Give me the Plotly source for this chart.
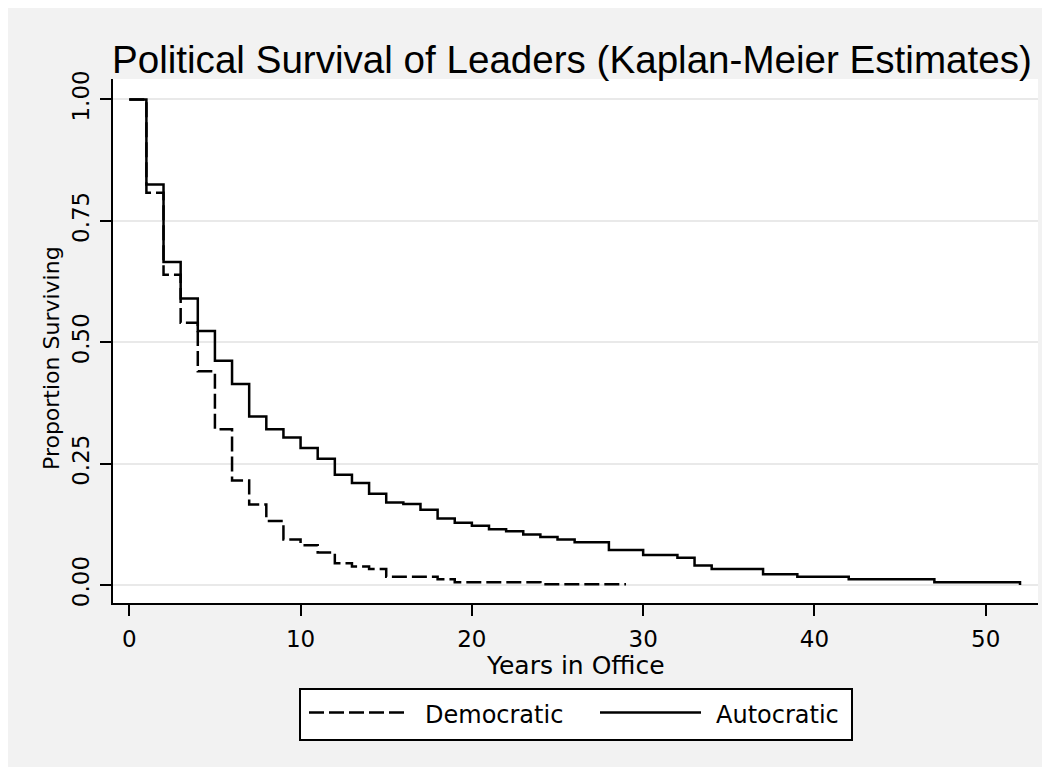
import plotly.graph_objects as go

# ---- data (Kaplan-Meier step estimates) ----
auto_years = [0, 1, 2, 3, 4, 5, 6, 7, 8, 9, 10, 11, 12, 13, 14, 15, 16, 17, 18, 19,
              20, 21, 22, 23, 24, 25, 26, 28, 30, 32, 33, 34, 37, 39, 42, 47, 52]
auto_surv = [1.0, 0.825, 0.665, 0.590, 0.523, 0.462, 0.414, 0.347, 0.321, 0.304,
             0.282, 0.260, 0.227, 0.210, 0.188, 0.170, 0.167, 0.155, 0.137, 0.128,
             0.122, 0.115, 0.111, 0.104, 0.099, 0.094, 0.088, 0.072, 0.062, 0.056,
             0.040, 0.033, 0.022, 0.017, 0.012, 0.0055, 0.0]

dem_years = [0, 1, 2, 3, 4, 5, 6, 7, 8, 9, 10, 11, 12, 13, 14, 15, 18, 19, 24, 29]
dem_surv = [1.0, 0.808, 0.639, 0.540, 0.440, 0.321, 0.215, 0.166, 0.132, 0.094,
            0.082, 0.067, 0.045, 0.038, 0.033, 0.017, 0.012, 0.0055, 0.0014, 0.0014]

x_ticks = [0, 10, 20, 30, 40, 50]
y_ticks = [0.0, 0.25, 0.5, 0.75, 1.0]
y_tick_labels = ["0.00", "0.25", "0.50", "0.75", "1.00"]

series_names = ["Democratic", "Autocratic"]
title_text = "Political Survival of Leaders (Kaplan-Meier Estimates)"
x_title = "Years in Office"
y_title = "Proportion Surviving"

FONT = "DejaVu Sans"
DASH = "15px,5px"

fig = go.Figure()
fig.add_trace(go.Scatter(x=auto_years, y=auto_surv, mode="lines", name=series_names[1],
                         line=dict(color="black", width=2.5, shape="hv")))
fig.add_trace(go.Scatter(x=dem_years, y=dem_surv, mode="lines", name=series_names[0],
                         line=dict(color="black", width=2.5, shape="hv", dash=DASH)))

W, H = 1050, 767
L, R, T, B = 105, 20, 71, 172
PW, PH = W - L - R, H - T - B


def px_x(px):
    return (px - L) / PW


def px_y(py):
    return (H - B - py) / PH


fig.update_layout(
    width=W, height=H,
    margin=dict(l=L, r=R, t=T, b=B),
    paper_bgcolor="#f2f2f2",
    plot_bgcolor="white",
    showlegend=False,
    title=dict(text=title_text, x=104 / W, xanchor="left", xref="container",
               y=1 - 51 / H, yanchor="middle", yref="container",
               font=dict(family="Liberation Sans", size=38.6, color="black")),
    xaxis=dict(range=[-0.95, 53.05], tickvals=x_ticks, ticks="outside", ticklen=11,
               tickwidth=2, tickcolor="black", showline=True, linecolor="black",
               linewidth=2, showgrid=False, zeroline=False, ticklabelstandoff=3,
               tickfont=dict(family=FONT, size=23, color="black")),
    yaxis=dict(range=[-0.037, 1.042], tickvals=y_ticks, ticktext=y_tick_labels,
               tickangle=-90, ticks="outside", ticklen=11, tickwidth=2,
               tickcolor="black", showline=True, linecolor="black", linewidth=2,
               showgrid=True, gridcolor="#e9e9e9", gridwidth=2, zeroline=False,
               ticklabelstandoff=2,
               tickfont=dict(family=FONT, size=23, color="black")),
)

# axis titles
fig.add_annotation(text=x_title, xref="paper", yref="paper", x=px_x(567), y=px_y(657),
                   xanchor="center", yanchor="middle", showarrow=False,
                   font=dict(family=FONT, size=25, color="black"))
fig.add_annotation(text=y_title, xref="paper", yref="paper", x=px_x(43), y=px_y(350),
                   xanchor="center", yanchor="middle", showarrow=False, textangle=-90,
                   font=dict(family=FONT, size=22, color="black"))

shapes = []
# legend box
shapes.append(dict(type="rect", xref="paper", yref="paper", x0=px_x(292), x1=px_x(844),
                   y0=px_y(732), y1=px_y(681), fillcolor="white",
                   line=dict(color="black", width=2)))
shapes.append(dict(type="line", xref="paper", yref="paper", x0=px_x(301), x1=px_x(401),
                   y0=px_y(704.5), y1=px_y(704.5),
                   line=dict(color="black", width=2.5, dash=DASH)))
shapes.append(dict(type="line", xref="paper", yref="paper", x0=px_x(592), x1=px_x(693),
                   y0=px_y(704.5), y1=px_y(704.5),
                   line=dict(color="black", width=2.5)))
fig.update_layout(shapes=shapes)

fig.add_annotation(text=series_names[0], xref="paper", yref="paper", x=px_x(415),
                   y=px_y(707), xanchor="left", yanchor="middle", showarrow=False,
                   font=dict(family=FONT, size=24, color="black"))
fig.add_annotation(text=series_names[1], xref="paper", yref="paper", x=px_x(706),
                   y=px_y(707), xanchor="left", yanchor="middle", showarrow=False,
                   font=dict(family=FONT, size=24, color="black"))

fig.write_html("out.html")
